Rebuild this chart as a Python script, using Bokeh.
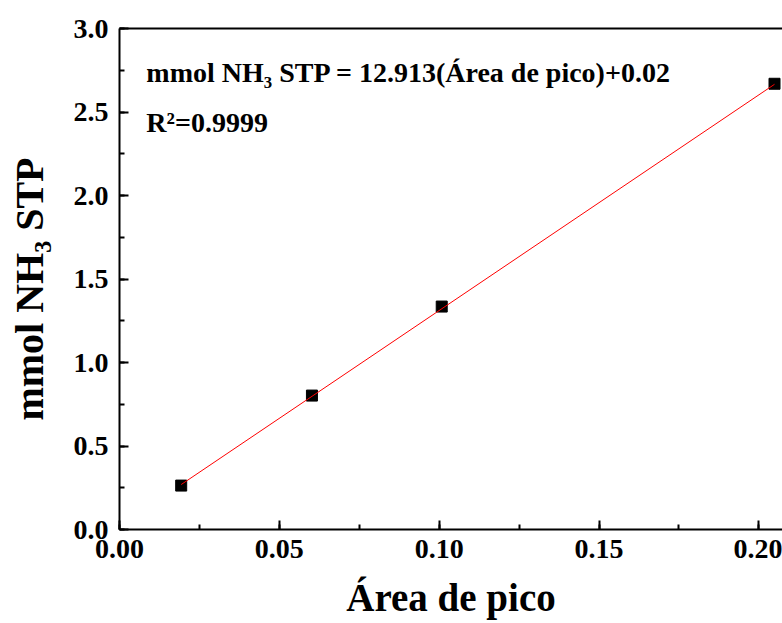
from bokeh.plotting import figure
from bokeh.models import SingleIntervalTicker, PrintfTickFormatter, LinearAxis, Label, FixedTicker
from bokeh.embed import file_html
from bokeh.resources import INLINE

# Data
area_pico = [0.0193, 0.0602, 0.1008, 0.2049]
mmol_nh3 = [0.263, 0.802, 1.335, 2.669]
fit_slope = 12.913
fit_intercept = 0.02
eq_text = "mmol NH\u2083 STP = 12.913(\u00c1rea de pico)+0.02"
r2_text = "R\u00b2=0.9999"
x_title = "\u00c1rea de pico"
y_title = "mmol NH\u2083 STP\u00a0\u00a0"

FONT = "Liberation Serif"
X_END = 0.2074

p = figure(width=782, height=623, x_range=(0, X_END), y_range=(0, 3.0),
           output_backend="svg", toolbar_location=None,
           min_border_left=119, min_border_right=0, min_border_top=28, min_border_bottom=94,
           x_axis_label=x_title, y_axis_label=y_title)
p.outline_line_color = None
p.grid.visible = False
p.background_fill_color = "white"
p.border_fill_color = "white"

p.xaxis.ticker = SingleIntervalTicker(interval=0.05, num_minor_ticks=2)
p.yaxis.ticker = SingleIntervalTicker(interval=0.5, num_minor_ticks=2)
p.xaxis.formatter = PrintfTickFormatter(format="%.2f")
p.yaxis.formatter = PrintfTickFormatter(format="%.1f")

for ax in (p.xaxis[0], p.yaxis[0]):
    ax.axis_line_width = 2
    ax.axis_line_color = "black"
    ax.major_tick_line_width = 2
    ax.minor_tick_line_width = 2
    ax.major_tick_in = 9
    ax.major_tick_out = 0
    ax.minor_tick_in = 5
    ax.minor_tick_out = 0
    ax.major_label_text_font = FONT
    ax.major_label_text_font_style = "bold"
    ax.major_label_text_font_size = "28px"
    ax.major_label_text_color = "black"
    ax.axis_label_text_font = FONT
    ax.axis_label_text_font_style = "bold"
    ax.axis_label_text_color = "black"
p.xaxis.major_label_standoff = 10
p.yaxis.major_label_standoff = 11
p.xaxis.axis_label_text_font_size = "39px"
p.yaxis.axis_label_text_font_size = "40px"
p.xaxis.axis_label_standoff = 15
p.yaxis.axis_label_standoff = 19

top = LinearAxis(ticker=FixedTicker(ticks=[]), axis_line_width=2,
                 major_tick_in=0, major_tick_out=0, minor_tick_in=0, minor_tick_out=0)
p.add_layout(top, "above")

p.scatter(area_pico, mmol_nh3, marker="square", size=11, color="black")
fx = [area_pico[0], area_pico[-1]]
fy = [fit_slope * v + fit_intercept for v in fx]
p.line(fx, fy, line_color="red", line_width=1)

x0 = 0.0084
p.add_layout(Label(x=x0, y=2.737, text=eq_text, text_font=FONT, text_font_style="bold",
                   text_font_size="28px", text_baseline="alphabetic", text_color="black"))
p.add_layout(Label(x=x0, y=2.437, text=r2_text, text_font=FONT, text_font_style="bold",
                   text_font_size="28px", text_baseline="alphabetic", text_color="black"))

open("out.html", "w").write(file_html(p, INLINE))
